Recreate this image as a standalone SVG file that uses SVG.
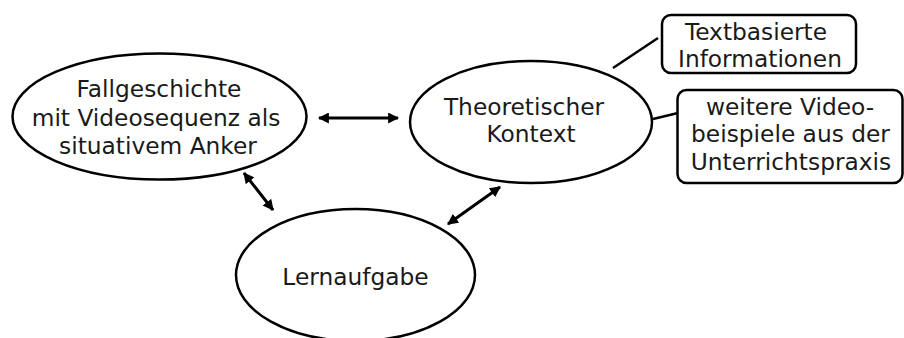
<svg xmlns="http://www.w3.org/2000/svg" width="904" height="338" viewBox="0 0 904 338">
<style>
.n{fill:#fff;stroke:#000;stroke-width:2.5}
.t{font-family:"DejaVu Sans",Verdana,sans-serif;font-size:23.3px;fill:#1a1a1a;text-anchor:middle}
.c{stroke:#000;stroke-width:3;fill:none}
.l{stroke:#000;stroke-width:2.5;fill:none}
</style>
<defs>
<marker id="ah" viewBox="0 0 10 10" refX="9" refY="5" markerWidth="11" markerHeight="11" markerUnits="userSpaceOnUse" orient="auto-start-reverse">
<path d="M0,0 L10,5 L0,10 Z" fill="#000"/>
</marker>
</defs>
<rect width="904" height="338" fill="#fff"/>
<g id="connectors">
<line class="c" x1="319" y1="118" x2="398" y2="118" marker-start="url(#ah)" marker-end="url(#ah)"/>
<line class="c" x1="244" y1="173" x2="273" y2="210" marker-start="url(#ah)" marker-end="url(#ah)"/>
<line class="c" x1="448" y1="224" x2="500" y2="187" marker-start="url(#ah)" marker-end="url(#ah)"/>
<line class="l" x1="613" y1="68" x2="658" y2="38"/>
<line class="l" x1="653" y1="119" x2="678" y2="113"/>
</g>
<g id="fallgeschichte">
<ellipse class="n" cx="159.5" cy="116.5" rx="147" ry="63"/>
<text class="t" x="159" y="97">Fallgeschichte</text>
<text class="t" x="156" y="126">mit Videosequenz als</text>
<text class="t" x="158" y="154">situativem Anker</text>
</g>
<g id="kontext">
<ellipse class="n" cx="531" cy="122" rx="121" ry="61"/>
<text class="t" x="524" y="115">Theoretischer</text>
<text class="t" x="531" y="142">Kontext</text>
</g>
<g id="lernaufgabe">
<ellipse class="n" cx="355.5" cy="275" rx="119.5" ry="66"/>
<text class="t" x="355.5" y="285">Lernaufgabe</text>
</g>
<g id="textbasiert">
<rect class="n" x="662" y="15" width="194" height="58" rx="9"/>
<text class="t" x="756" y="40">Textbasierte</text>
<text class="t" x="760" y="67">Informationen</text>
</g>
<g id="videobeispiele">
<rect class="n" x="677.5" y="90" width="225" height="93" rx="9"/>
<text class="t" x="790" y="115">weitere Video-</text>
<text class="t" x="790.5" y="142">beispiele aus der</text>
<text class="t" x="791" y="170">Unterrichtspraxis</text>
</g>
</svg>
